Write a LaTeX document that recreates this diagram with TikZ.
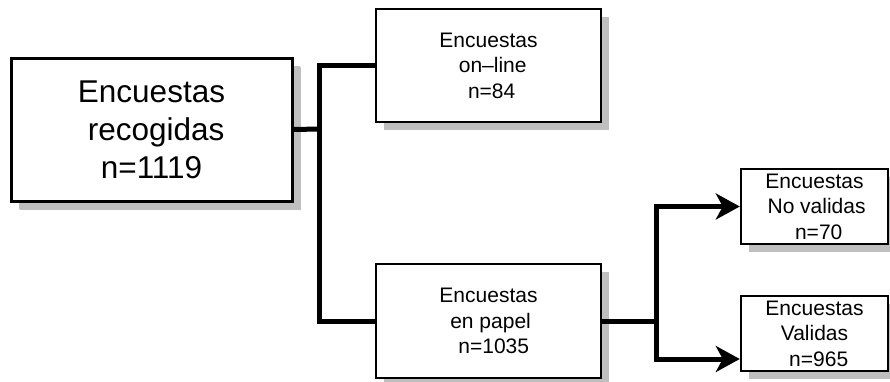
\documentclass[tikz,border=0pt]{standalone}
\usepackage{fontspec}
\setmainfont{Liberation Sans}
\usetikzlibrary{arrows.meta,shadows}
\definecolor{shadowgray}{RGB}{191,191,191}
\begin{document}
\begin{tikzpicture}[x=1pt,y=-1pt,
  box/.style={draw=black,fill=white,rectangle,align=center,inner sep=0pt,
    drop shadow={shadow xshift=8pt,shadow yshift=-8pt,fill=shadowgray,opacity=1}},
  bigbox/.style={box,line width=3pt,font=\fontsize{31.5}{38}\selectfont,
    drop shadow={shadow xshift=9pt,shadow yshift=-9pt,fill=shadowgray,opacity=1}},
  midbox/.style={box,line width=2.6pt,font=\fontsize{21}{25.5}\selectfont},
  smallbox/.style={box,line width=2.4pt,font=\fontsize{21}{25.5}\selectfont},
  conn/.style={line width=5pt,line join=miter},
  arr/.style={conn,-{Stealth[length=24pt 0,width=26pt 0,inset=7pt 0]}}]
\useasboundingbox (0,0) rectangle (890,381);
\node[bigbox,minimum width=281pt,minimum height=143pt] (main) at (151.5,129.5)
  {Encuestas\\\hspace*{0.3em}recogidas\\n=1119};
\node[midbox,minimum width=225pt,minimum height=113pt] (online) at (488.5,65.5)
  {Encuestas\\\hspace*{0.4em}on–line\\\hspace*{0.3em}n=84};
\node[midbox,minimum width=225pt,minimum height=114pt] (paper) at (488.5,321)
  {Encuestas\\\hspace*{0.2em}en papel\\\hspace*{0.5em}n=1035};
\node[smallbox,minimum width=147pt,minimum height=75pt] (nv) at (814.5,206.5)
  {Encuestas\\\hspace*{0.2em}No validas\\\hspace*{0.4em}n=70};
\node[smallbox,minimum width=147pt,minimum height=75pt] (val) at (814.5,333.5)
  {Encuestas\\Validas\\\hspace*{0.4em}n=965};
\coordinate (j1) at (319,129);
\coordinate (j2) at (656,321);
\draw[conn] (main.east) -- (j1);
\draw[conn] (online.west) -| (j1) |- (paper.west);
\draw[conn] (paper.east) -- (j2);
\draw[arr] (j2) |- (nv.west);
\draw[arr] (j2) |- ([yshift=-25.5pt]val.west);
\end{tikzpicture}
\end{document}
